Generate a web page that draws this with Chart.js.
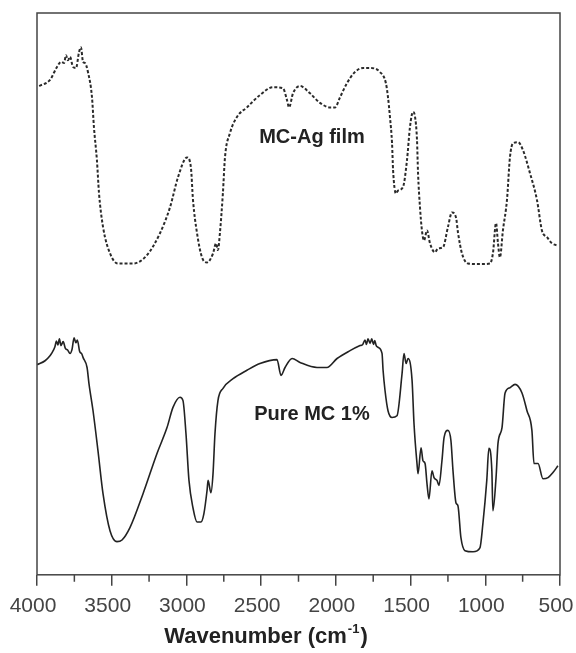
<!DOCTYPE html>
<html>
<head>
<meta charset="utf-8">
<script src="https://cdn.jsdelivr.net/npm/chart.js@4"></script>
<style>
  html, body { margin: 0; padding: 0; background: #fff; }
  #wrap { width: 576px; height: 653px; }
</style>
</head>
<body>
<div id="wrap"><canvas id="ftirChart"></canvas></div>
<script>
  // MC-Ag film spectrum (wavenumber, cm-1 / transmittance, a.u.)
  const agWave = [3985, 3913, 3866, 3839, 3819, 3806, 3793, 3779, 3759, 3739, 3719, 3706, 3692, 3679, 3659, 3632,
    3619, 3599, 3585, 3558, 3511, 3458, 3357, 3264, 3177, 3110, 3056, 2996, 2970, 2956, 2929, 2896, 2862, 2822,
    2802, 2789, 2776, 2756, 2742, 2709, 2662, 2595, 2508, 2421, 2354, 2327, 2313, 2287, 2240, 2173, 2106, 2039,
    2006, 1972, 1926, 1872, 1818, 1771, 1705, 1665, 1651, 1638, 1624, 1617, 1598, 1584, 1551, 1524, 1504, 1484,
    1470, 1457, 1450, 1437, 1424, 1410, 1390, 1370, 1337, 1316, 1283, 1250, 1223, 1196, 1182, 1156, 1116, 1036,
    969, 949, 928, 915, 902, 882, 855, 835, 815, 781, 748, 701, 654, 621, 587, 554, 514];
  const agTrans = [87.0, 88.1, 90.4, 91.3, 91.1, 92.5, 91.6, 92.2, 90.4, 90.2, 93.0, 93.9, 91.3, 91.1, 89.5, 85.0,
    79.7, 73.8, 67.9, 61.9, 57.2, 55.4, 55.4, 56.9, 60.8, 65.4, 70.8, 74.3, 72.5, 66.7, 60.8, 56.5, 55.6, 57.2,
    59.0, 57.8, 60.8, 67.9, 74.3, 78.6, 81.5, 83.2, 85.4, 86.8, 86.6, 84.5, 83.2, 85.7, 87.0, 85.7, 84.0, 83.2,
    83.2, 85.0, 87.5, 89.5, 90.2, 90.2, 89.5, 87.5, 85.0, 81.5, 76.8, 72.0, 67.9, 68.4, 69.0, 73.8, 79.7, 82.4,
    81.5, 77.4, 71.5, 65.4, 61.3, 59.5, 61.3, 59.0, 57.4, 58.1, 58.3, 61.9, 64.5, 63.6, 60.8, 57.2, 55.4, 55.3,
    55.4, 57.2, 62.6, 59.0, 56.5, 61.3, 66.7, 74.3, 76.8, 77.0, 75.6, 71.5, 66.7, 61.3, 60.1, 59.0, 58.6];

  // Pure MC 1% spectrum
  const mcWave = [3999, 3946, 3913, 3900, 3880, 3870, 3860, 3850, 3840, 3825, 3810, 3795, 3779, 3765, 3752, 3740,
    3730, 3715, 3700, 3692, 3665, 3652, 3625, 3592, 3558,
    3511, 3465, 3431, 3378, 3291, 3197, 3130, 3090, 3043, 3023, 3003, 2983, 2956, 2929, 2903, 2883, 2862, 2855,
    2836, 2822, 2809, 2789, 2755, 2688, 2595, 2508, 2394, 2367, 2340, 2293, 2240, 2126, 2060, 1992, 1905, 1838,
    1820, 1805, 1795, 1785, 1771, 1760, 1748, 1740, 1730, 1718, 1691, 1684, 1671, 1651, 1624, 1591, 1557, 1544,
    1530, 1517, 1490, 1477, 1457, 1450,
    1430, 1417, 1403, 1390, 1377, 1357, 1343, 1323, 1310, 1290, 1276, 1250, 1230, 1216, 1196, 1183, 1163, 1136,
    1082, 1036, 1016, 990, 976, 956, 949, 928, 915, 888, 868, 835, 801, 755, 721, 688, 674, 647, 614, 580, 547, 514];
  const mcTrans = [37.4, 38.1, 39.0, 39.5, 40.6, 41.6, 40.9, 42.0, 40.8, 41.5, 40.3, 40.0, 39.4, 40.2, 42.2, 41.3,
    41.8, 39.8, 39.3, 38.7, 36.9, 34.0, 29.2, 22.1, 14.4,
    7.8, 5.9, 6.2, 8.4, 14.4, 21.6, 26.2, 29.8, 31.6, 31.0, 25.1, 16.8, 11.9, 9.4, 9.4, 10.9, 15.0, 16.8,
    14.6, 18.0, 25.1, 31.0, 33.2, 34.9, 36.4, 37.6, 38.3, 35.5, 36.9, 38.5, 37.8, 36.9, 36.9, 38.5, 39.9, 40.8,
    41.0, 41.8, 41.0, 42.0, 41.2, 42.0, 41.0, 41.7, 40.8, 40.5, 39.4, 36.4, 32.8, 29.2, 28.0, 28.3, 35.8, 39.4,
    37.6, 38.5, 34.6, 26.9, 19.8, 18.0,
    22.6, 20.3, 19.8, 16.2, 13.5, 18.5, 17.3, 16.8, 15.9, 20.3, 24.4, 25.7, 23.9, 18.5, 12.8, 12.3, 6.6, 4.3,
    4.1, 4.8, 9.1, 16.8, 22.5, 18.5, 11.4, 17.3, 23.4, 26.2, 32.3, 33.3, 33.9, 32.4, 29.2, 25.7, 19.8, 19.8, 17.1,
    17.3, 18.2, 19.4];

  const majorTicks = [4000, 3500, 3000, 2500, 2000, 1500, 1000, 500];
  const minorTicks = [3750, 3250, 2750, 2250, 1750, 1250, 750];

  const curveLabels = [
    { text: 'MC-Ag film', x: 2160, y: 77.9 },
    { text: 'Pure MC 1%', x: 2160, y: 28.5 }
  ];

  const toPoints = (w, t) => w.map((x, i) => ({ x: x, y: t[i] }));

  const FONT = '"Liberation Sans", Arial, sans-serif';

  // box around the plot area, minor ticks, curve names and axis title
  const frame = {
    id: 'frame',
    afterDraw(chart) {
      const { ctx, chartArea: a, scales } = chart;
      ctx.save();
      ctx.strokeStyle = '#444';
      ctx.lineWidth = 1.5;
      ctx.strokeRect(a.left, a.top, a.right - a.left, a.bottom - a.top);
      ctx.beginPath();
      minorTicks.forEach(v => {
        const px = scales.x.getPixelForValue(v);
        ctx.moveTo(px, a.bottom);
        ctx.lineTo(px, a.bottom + 7);
      });
      ctx.stroke();

      ctx.fillStyle = '#222';
      ctx.font = 'bold 20px ' + FONT;
      ctx.textAlign = 'center';
      ctx.textBaseline = 'middle';
      curveLabels.forEach(l => {
        ctx.fillText(l.text, scales.x.getPixelForValue(l.x), scales.y.getPixelForValue(l.y));
      });

      // "Wavenumber (cm-1)" with a raised -1
      const main = 'Wavenumber (cm';
      const sup = '-1';
      const tail = ')';
      const f1 = 'bold 22px ' + FONT;
      const f2 = 'bold 13px ' + FONT;
      ctx.font = f1;
      const w1 = ctx.measureText(main).width, w3 = ctx.measureText(tail).width;
      ctx.font = f2;
      const w2 = ctx.measureText(sup).width;
      let x = 266 - (w1 + w2 + w3 + 2) / 2;
      const y = 643;
      ctx.textAlign = 'left';
      ctx.textBaseline = 'alphabetic';
      ctx.font = f1;
      ctx.fillText(main, x, y);
      x += w1 + 1;
      ctx.font = f2;
      ctx.fillText(sup, x, y - 10);
      x += w2 + 1;
      ctx.font = f1;
      ctx.fillText(tail, x, y);
      ctx.restore();
    }
  };

  new Chart(document.getElementById('ftirChart'), {
    type: 'line',
    data: {
      datasets: [
        {
          label: 'MC-Ag film',
          data: toPoints(agWave, agTrans),
          borderColor: '#2a2a2a',
          borderWidth: 2,
          borderDash: [3, 2],
          pointRadius: 0,
          cubicInterpolationMode: 'monotone',
          fill: false
        },
        {
          label: 'Pure MC 1%',
          data: toPoints(mcWave, mcTrans),
          borderColor: '#222',
          borderWidth: 1.6,
          pointRadius: 0,
          cubicInterpolationMode: 'monotone',
          fill: false
        }
      ]
    },
    options: {
      responsive: true,
      maintainAspectRatio: false,
      animation: false,
      layout: { padding: { left: 37, top: 13, right: 16, bottom: 26 } },
      plugins: { legend: { display: false }, tooltip: { enabled: false } },
      scales: {
        x: {
          type: 'linear',
          reverse: true,
          min: 500,
          max: 4000,
          border: { display: false },
          grid: { display: true, drawOnChartArea: false, tickLength: 11, color: '#444', lineWidth: 1.5 },
          afterBuildTicks: axis => { axis.ticks = majorTicks.map(v => ({ value: v })); },
          afterFit: axis => { axis.paddingLeft = 0; axis.paddingRight = 0; },
          ticks: {
            padding: 8,
            labelOffset: -4,
            maxRotation: 0,
            color: '#444',
            font: { family: FONT, size: 21 },
            callback: v => String(v)
          }
        },
        y: {
          display: false,
          min: 0,
          max: 100
        }
      }
    },
    plugins: [frame]
  });
</script>
</body>
</html>
